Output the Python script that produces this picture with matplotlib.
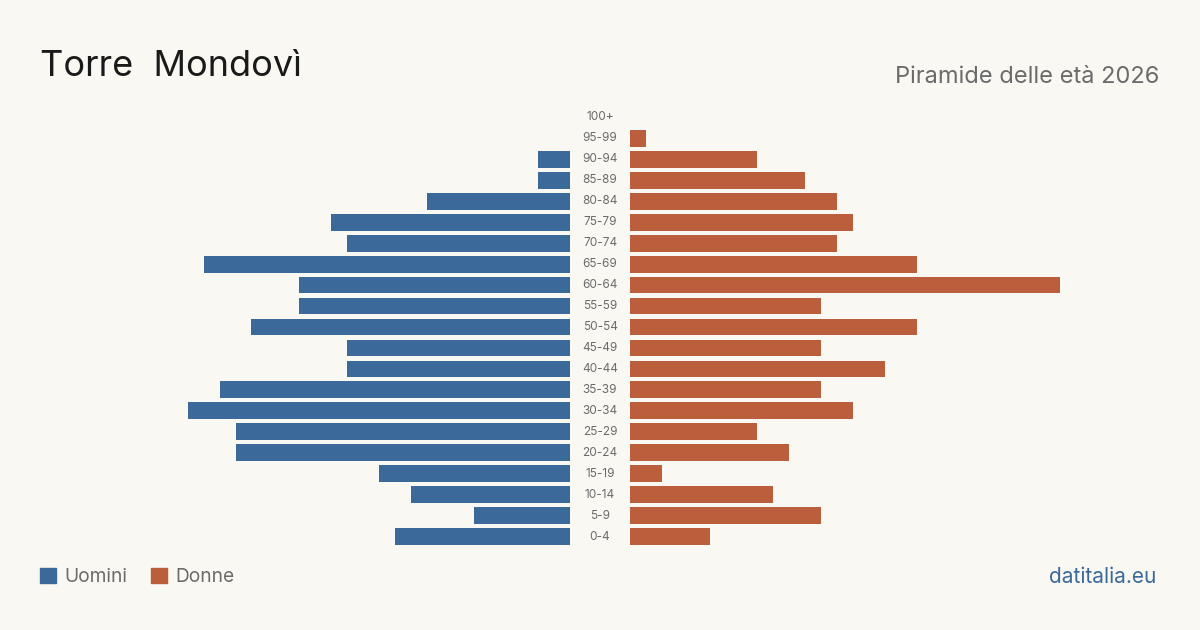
import matplotlib.pyplot as plt
from matplotlib.patches import Patch

plt.rcParams['font.family'] = ['Inter', 'DejaVu Sans']

ages = ['0-4', '5-9', '10-14', '15-19', '20-24', '25-29', '30-34', '35-39',
        '40-44', '45-49', '50-54', '55-59', '60-64', '65-69', '70-74',
        '75-79', '80-84', '85-89', '90-94', '95-99', '100+']
uomini = [11, 6, 10, 12, 21, 21, 24, 22, 14, 14, 20, 17, 17, 23, 14, 15, 9, 2, 2, 0, 0]
donne = [5, 12, 9, 2, 10, 8, 14, 12, 16, 12, 18, 12, 27, 18, 13, 14, 13, 11, 8, 1, 0]

BG = '#f9f8f3'
BLUE = '#3b6a9a'
ORANGE = '#ba5e3c'
GREY = '#6b6b6b'

W, H = 1200, 630
fig = plt.figure(figsize=(12, 6.3), dpi=100, facecolor=BG)

top_px, bot_px = 107, 547
unit = 430 / 27  # pixels per person
xmax = 27
ax_l = fig.add_axes([(570 - xmax * unit) / W, (H - bot_px) / H, xmax * unit / W, (bot_px - top_px) / H])
ax_r = fig.add_axes([630 / W, (H - bot_px) / H, xmax * unit / W, (bot_px - top_px) / H])

y = range(len(ages))
ax_l.barh(y, uomini, height=0.8, color=BLUE)
ax_r.barh(y, donne, height=0.8, color=ORANGE)
ax_l.set_xlim(xmax, 0)
ax_r.set_xlim(0, xmax)

for ax in (ax_l, ax_r):
    ax.set_ylim(-0.5, len(ages) - 0.5)
    ax.set_facecolor(BG)
    ax.axis('off')

for i, a in enumerate(ages):
    ax_r.text(-30 / unit, i, a, ha='center', va='center', fontsize=8.5, color=GREY)

fig.text(40 / W, 1 - 67 / H, 'Torre  Mondovì', fontsize=26, color='#1a1a1a', va='center', ha='left')
fig.text(1159 / W, 1 - 77 / H, 'Piramide delle età 2026', fontsize=17, color=GREY, va='center', ha='right')
fig.text(1156 / W, 1 - 577 / H, 'datitalia.eu', fontsize=15, color=BLUE, va='center', ha='right')

handles = [Patch(color=BLUE, label='Uomini'), Patch(color=ORANGE, label='Donne')]
fig.legend(handles=handles, loc='center left', bbox_to_anchor=(23 / W, 1 - 577 / H), ncol=2,
           frameon=False, fontsize=13.8, labelcolor=GREY, handlelength=0.8, handleheight=0.8,
           handletextpad=0.45, columnspacing=1.25)

fig.savefig('out.png', dpi=100, facecolor=BG)
